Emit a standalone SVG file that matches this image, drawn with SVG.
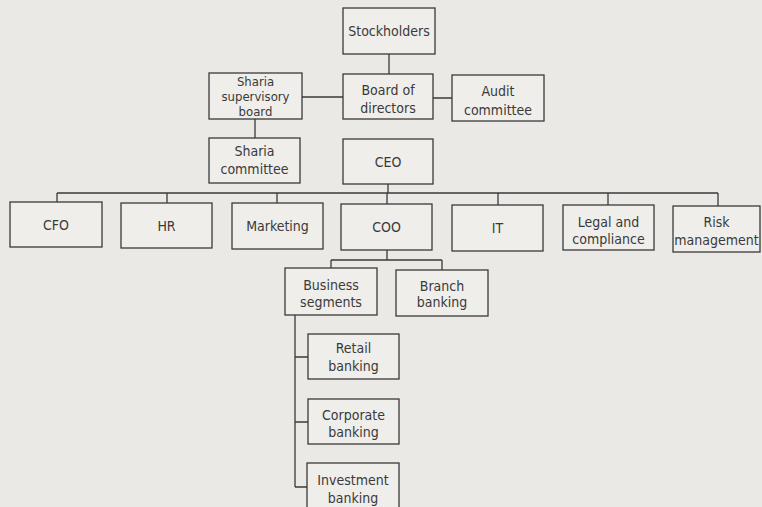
<svg xmlns="http://www.w3.org/2000/svg" width="762" height="507" viewBox="0 0 762 507">
<style>
.b{fill:#efeeeb;stroke:#3a3a3a;stroke-width:1.3}
.t{font-family:"DejaVu Sans Condensed","Liberation Sans Narrow","Liberation Sans",sans-serif;font-size:14px;fill:#3a3a3a;text-anchor:middle}
.s{font-size:13px}
.c{fill:none;stroke:#3a3a3a;stroke-width:1.3}
</style>
<rect x="0" y="0" width="762" height="507" fill="#eae9e6"/>
<g id="connectors">
<path class="c" d="M389 54V74M302 97H343M433 98H452M255 119V138M388 184V193M57 193H718M57 193V202M167 193V203M277 193V203M387 193V204M498 193V205M608 193V205M718 193V206M387 250V260M331 260H442M331 260V268M442 260V270M295 315V487M295 357H308M295 422H308M295 487H307"/>
</g>
<g id="stockholders"><rect class="b" x="343" y="8" width="92" height="46"/><text class="t" x="389" y="36">Stockholders</text></g>
<g id="sharia-supervisory-board"><rect class="b" x="209" y="73" width="93" height="46"/><text class="t s" x="255.5" y="86">Sharia</text><text class="t s" x="255.5" y="101">supervisory</text><text class="t s" x="255.5" y="115.5">board</text></g>
<g id="board"><rect class="b" x="343" y="74" width="90" height="45"/><text class="t" x="388" y="94.5">Board of</text><text class="t" x="388" y="112.5">directors</text></g>
<g id="audit"><rect class="b" x="452" y="75" width="92" height="46"/><text class="t" x="498" y="96">Audit</text><text class="t" x="498" y="114.5">committee</text></g>
<g id="sharia-committee"><rect class="b" x="209" y="138" width="91" height="45"/><text class="t" x="254.5" y="156">Sharia</text><text class="t" x="254.5" y="174">committee</text></g>
<g id="ceo"><rect class="b" x="343" y="139" width="90" height="45"/><text class="t" x="388" y="167">CEO</text></g>
<g id="cfo"><rect class="b" x="10" y="202" width="92" height="45"/><text class="t" x="56" y="230">CFO</text></g>
<g id="hr"><rect class="b" x="121" y="203" width="91" height="45"/><text class="t" x="166.5" y="231">HR</text></g>
<g id="marketing"><rect class="b" x="232" y="203" width="91" height="46"/><text class="t" x="277.5" y="231">Marketing</text></g>
<g id="coo"><rect class="b" x="341" y="204" width="91" height="46"/><text class="t" x="386.5" y="232">COO</text></g>
<g id="it"><rect class="b" x="452" y="205" width="91" height="46"/><text class="t" x="497.5" y="232.5">IT</text></g>
<g id="legal"><rect class="b" x="563" y="205" width="91" height="45"/><text class="t" x="608.5" y="226.5">Legal and</text><text class="t" x="608.5" y="244">compliance</text></g>
<g id="risk"><rect class="b" x="673" y="206" width="87" height="46"/><text class="t" x="716.5" y="227">Risk</text><text class="t" x="716.5" y="244.5">management</text></g>
<g id="business-segments"><rect class="b" x="285" y="268" width="92" height="47"/><text class="t" x="331" y="290">Business</text><text class="t" x="331" y="307">segments</text></g>
<g id="branch-banking"><rect class="b" x="396" y="270" width="92" height="46"/><text class="t" x="442" y="291">Branch</text><text class="t" x="442" y="307">banking</text></g>
<g id="retail-banking"><rect class="b" x="308" y="334" width="91" height="45"/><text class="t" x="353.5" y="353">Retail</text><text class="t" x="353.5" y="371">banking</text></g>
<g id="corporate-banking"><rect class="b" x="308" y="399" width="91" height="45"/><text class="t" x="353.5" y="420">Corporate</text><text class="t" x="353.5" y="437">banking</text></g>
<g id="investment-banking"><rect class="b" x="307" y="463" width="92" height="50"/><text class="t" x="353" y="485">Investment</text><text class="t" x="353" y="503">banking</text></g>
</svg>
